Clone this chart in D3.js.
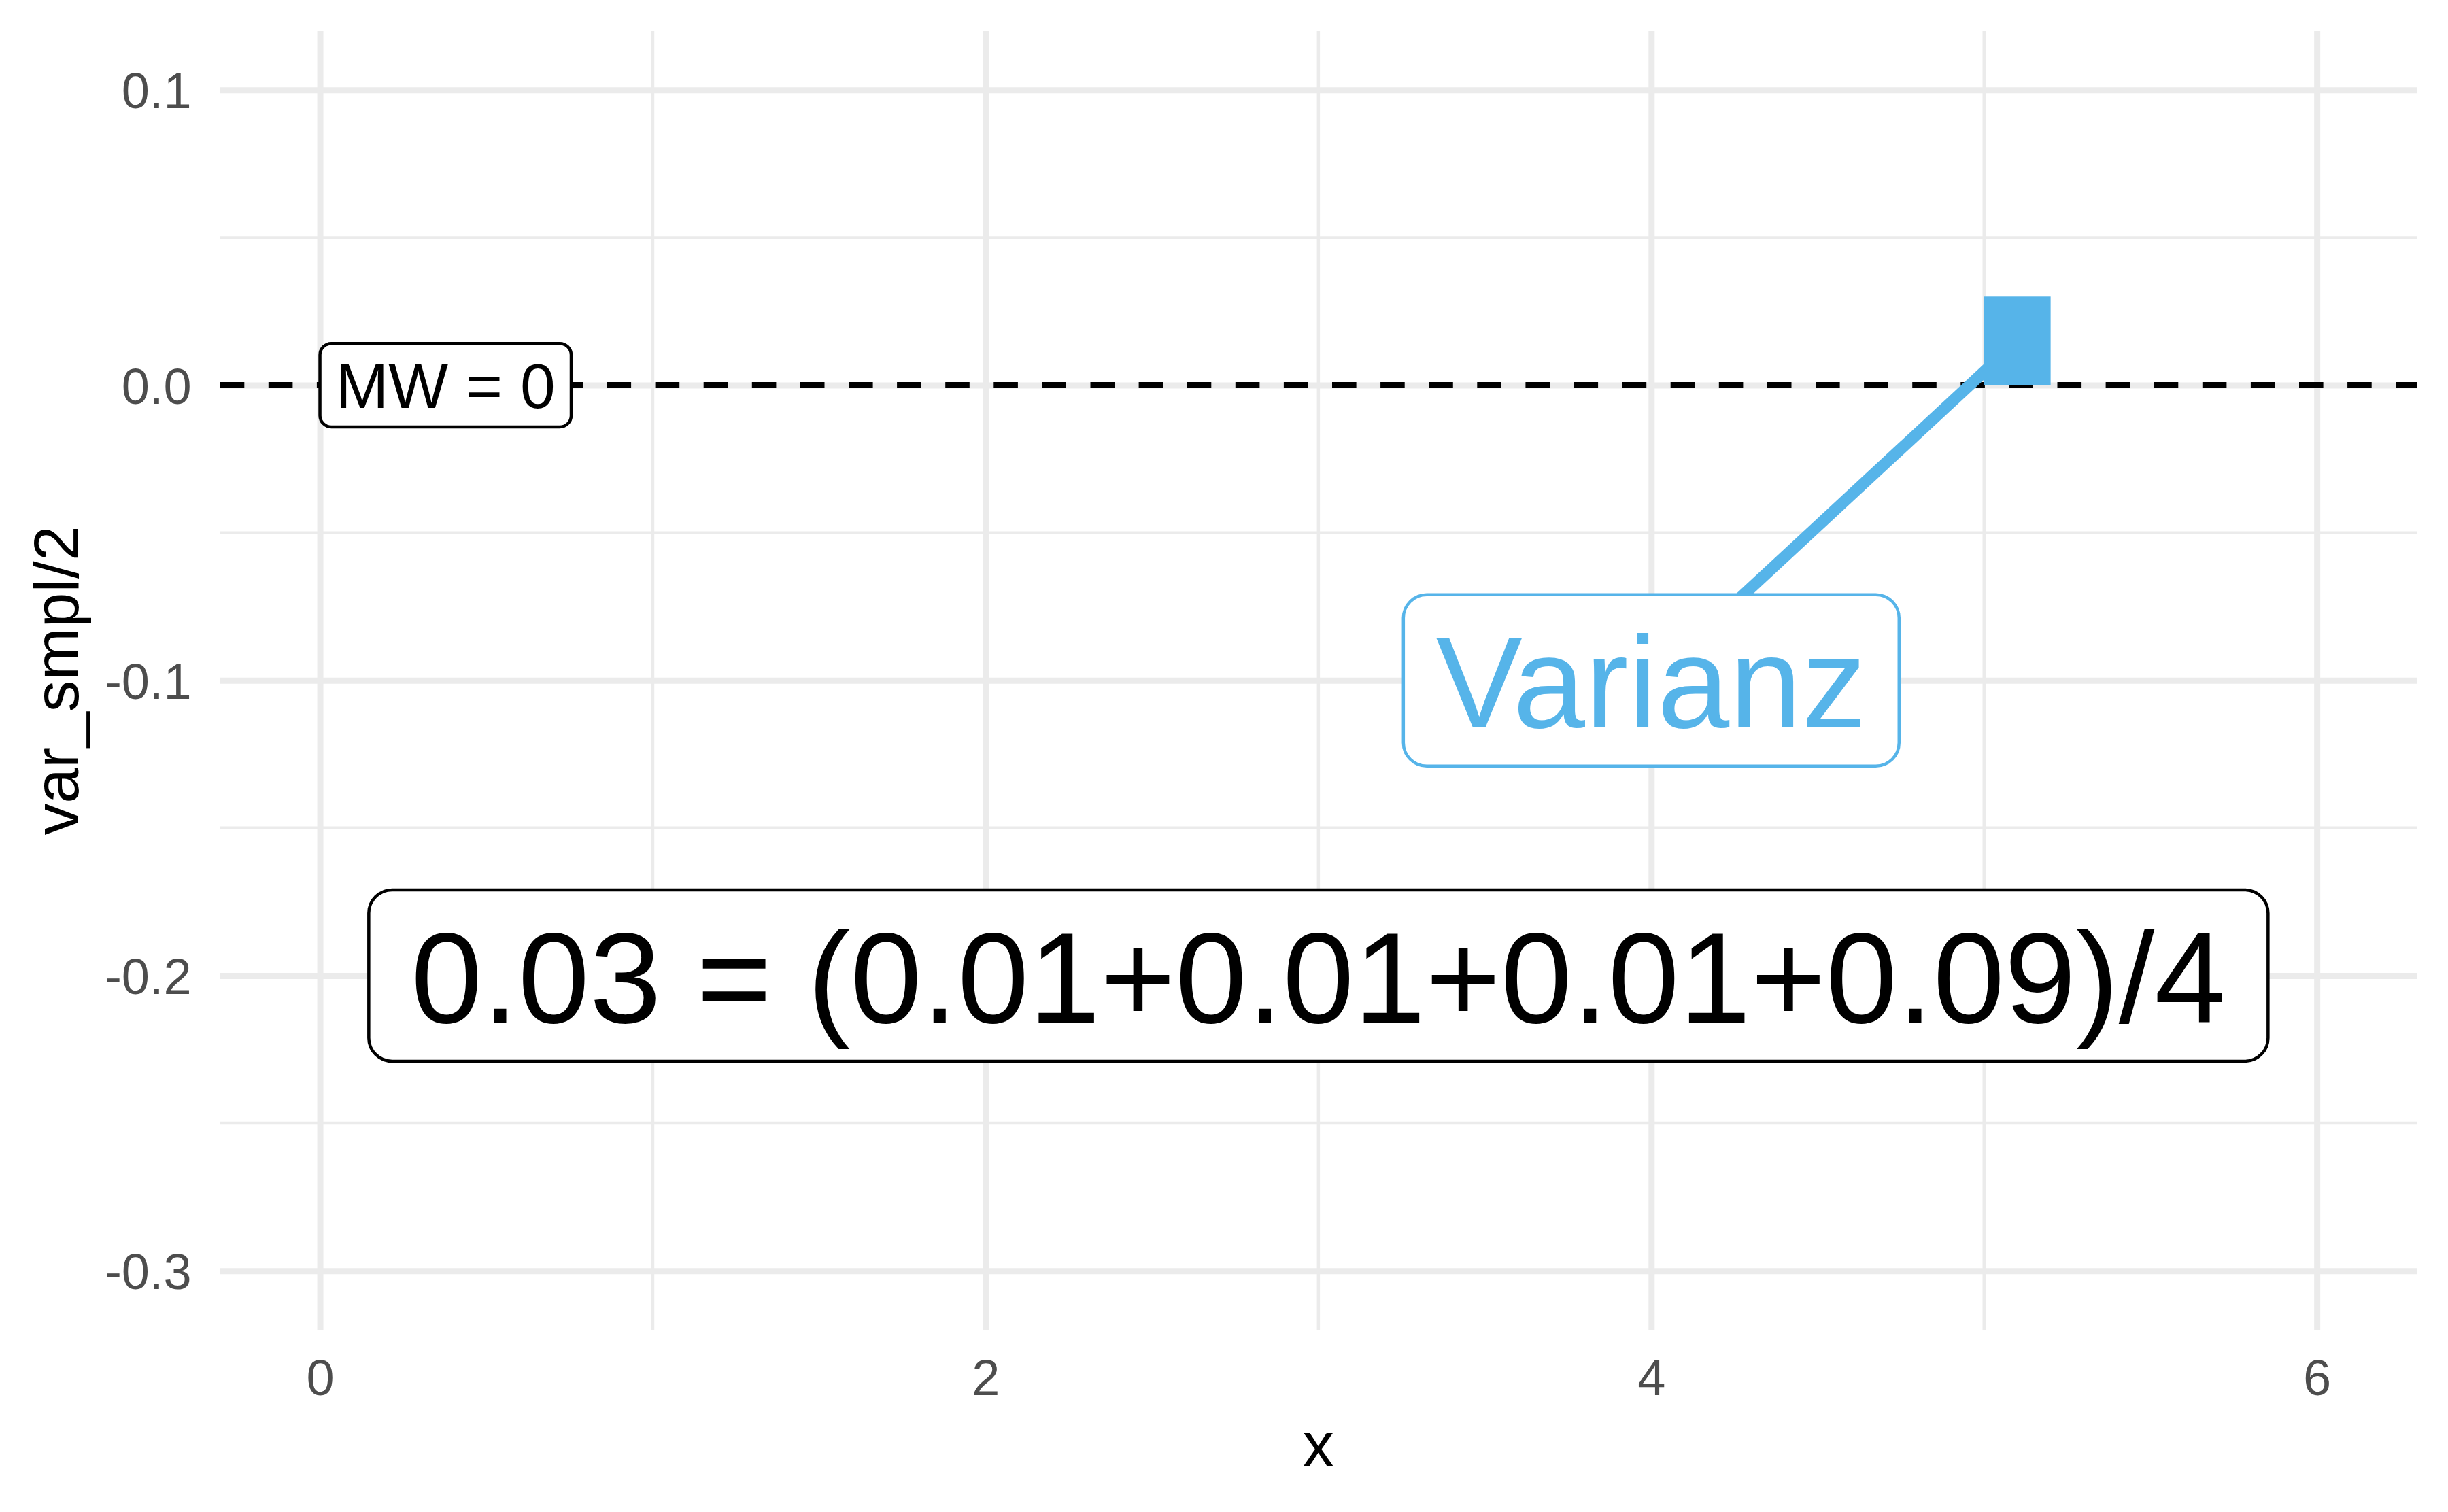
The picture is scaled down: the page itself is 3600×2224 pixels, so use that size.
<!DOCTYPE html>
<html>
<head>
<meta charset="utf-8">
<script src="https://cdn.jsdelivr.net/npm/d3@7"></script>
<style>
  body { margin: 0; background: #fff; }
  svg { display: block; font-family: "Liberation Sans", Arial, sans-serif; }
</style>
</head>
<body>
<div id="chart"></div>
<script>
// data
const xTicks = [0, 2, 4, 6];
const xMinor = [1, 3, 5];
const yTicks = [0.1, 0.0, -0.1, -0.2, -0.3];
const yMinor = [0.05, -0.05, -0.15, -0.25];
const meanValue = 0;
const rectX = [5, 5.2];          // xmin, xmax of the variance bar
const rectY = [0, 0.03];         // ymin, ymax (variance = 0.03)
const pointTarget = [5.1, 0.015]; // where the "Varianz" segment points
const labelText = ['MW = 0', 'Varianz', '0.03 = (0.01+0.01+0.01+0.09)/4'];
const labelX = [0, 4, 3];
const labelY = [0, -0.1, -0.2];

const W = 3600, H = 2224;
const panel = { left: 323.7, right: 3554, top: 45.5, bottom: 1956 };
const blue = '#56B4E9';

const svg = d3.select('#chart').append('svg')
  .attr('width', W).attr('height', H);
svg.append('rect').attr('width', W).attr('height', H).attr('fill', '#fff');

const x = d3.scaleLinear().domain([-0.3, 6.3]).range([panel.left, panel.right]);
const y = d3.scaleLinear().domain([-0.32, 0.12]).range([panel.bottom, panel.top]);

// minor grid
svg.append('g').selectAll('line').data(xMinor).enter().append('line')
  .attr('x1', d => x(d)).attr('x2', d => x(d))
  .attr('y1', panel.top).attr('y2', panel.bottom)
  .attr('stroke', '#ebebeb').attr('stroke-width', 4.5);
svg.append('g').selectAll('line').data(yMinor).enter().append('line')
  .attr('y1', d => y(d)).attr('y2', d => y(d))
  .attr('x1', panel.left).attr('x2', panel.right)
  .attr('stroke', '#ebebeb').attr('stroke-width', 4.5);

// major grid + tick labels via d3 axes
const xAxis = svg.append('g')
  .attr('transform', `translate(0,${panel.bottom})`)
  .call(d3.axisBottom(x).tickValues(xTicks).tickFormat(d3.format('d'))
    .tickSize(-(panel.bottom - panel.top)).tickPadding(43));
const yAxis = svg.append('g')
  .attr('transform', `translate(${panel.left},0)`)
  .call(d3.axisLeft(y).tickValues(yTicks).tickFormat(d => d3.format('.1f')(d).replace('−', '-'))
    .tickSize(-(panel.right - panel.left)).tickPadding(42));

[xAxis, yAxis].forEach(g => {
  g.select('.domain').remove();
  g.selectAll('line').attr('stroke', '#ebebeb').attr('stroke-width', 9);
  g.selectAll('text').attr('fill', '#4d4d4d').attr('font-size', 74)
    .attr('font-family', '"Liberation Sans", Arial, sans-serif');
});
yAxis.selectAll('text').attr('dy', '0.36em');

// mean line
svg.append('line')
  .attr('x1', panel.left).attr('x2', panel.right)
  .attr('y1', y(meanValue)).attr('y2', y(meanValue))
  .attr('stroke', '#000').attr('stroke-width', 9)
  .attr('stroke-dasharray', '35.6 35.5');

// segment from Varianz label toward the bar
svg.append('line')
  .attr('x1', x(labelX[1])).attr('y1', y(labelY[1]))
  .attr('x2', x(pointTarget[0])).attr('y2', y(pointTarget[1]))
  .attr('stroke', blue).attr('stroke-width', 17);

// variance bar
svg.append('rect')
  .attr('x', x(rectX[0])).attr('width', x(rectX[1]) - x(rectX[0]))
  .attr('y', y(rectY[1])).attr('height', y(rectY[0]) - y(rectY[1]))
  .attr('fill', blue);

// labels
const labelFont = [93, 191, 191];
const textFont = [93, 191, 189];   // formula glyphs render a touch narrower
const labelColor = ['#000', blue, '#000'];
const labelHjust = [0, 0.5, 0.5];

labelText.forEach((t, i) => {
  const fs = labelFont[i];
  const g = svg.append('g');
  const box = g.append('rect');
  const txt = g.append('text')
    .attr('font-size', textFont[i])
    .attr('fill', labelColor[i])
    .text(t);
  const len = txt.node().getComputedTextLength() * fs / textFont[i];
  const bw = len + 0.5 * fs, bh = 1.32 * fs;
  const left = x(labelX[i]) - labelHjust[i] * bw;
  const cy = y(labelY[i]);
  box.attr('x', left).attr('y', cy - bh / 2)
    .attr('width', bw).attr('height', bh)
    .attr('rx', 0.18 * fs).attr('ry', 0.18 * fs)
    .attr('fill', '#fff').attr('stroke', labelColor[i]).attr('stroke-width', 4.5);
  const tlen = txt.node().getComputedTextLength();
  txt.attr('x', left + (bw - tlen) / 2).attr('y', cy + 0.36 * fs);
});

// axis titles
svg.append('text')
  .attr('x', (panel.left + panel.right) / 2).attr('y', 2157)
  .attr('text-anchor', 'middle').attr('font-size', 93).attr('fill', '#000')
  .text('x');
svg.append('text')
  .attr('transform', `translate(115,${(panel.top + panel.bottom) / 2}) rotate(-90)`)
  .attr('text-anchor', 'middle').attr('font-size', 93).attr('fill', '#000')
  .text('var_smpl/2');
</script>
</body>
</html>
